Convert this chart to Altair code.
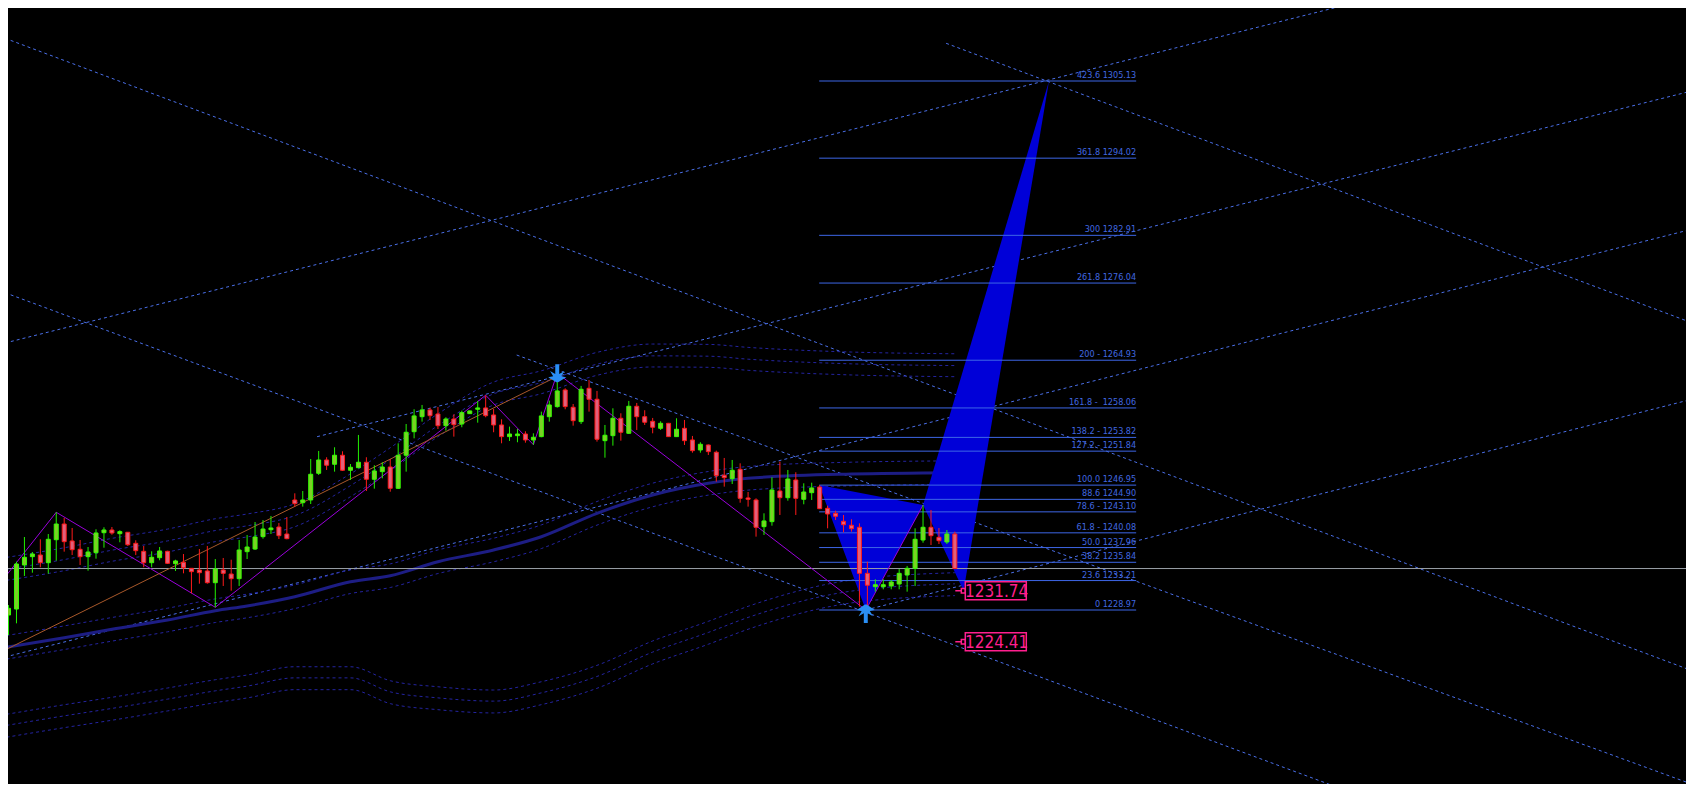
import altair as alt
import pandas as pd

# ---------------- data ----------------
OPEN = [1228.25, 1229.11, 1235.45, 1236.65, 1236.89, 1235.78, 1239.09, 1241.35, 1238.91, 1237.71,
        1236.65, 1237.22, 1240.10, 1240.49, 1239.96, 1240.16, 1238.57, 1237.42, 1235.78, 1236.50,
        1237.42, 1235.64, 1235.84, 1234.97, 1234.73, 1234.59, 1232.90, 1234.73, 1234.15, 1233.48,
        1237.37, 1237.75, 1239.53, 1240.53, 1240.92, 1239.91, 1244.81, 1244.42, 1244.81, 1248.65,
        1250.57, 1249.95, 1251.25, 1249.09, 1249.46, 1250.24, 1247.79, 1248.89, 1249.56, 1246.49,
        1251.25, 1254.64, 1256.80, 1257.77, 1257.19, 1255.51, 1256.47, 1255.75, 1257.24, 1257.87,
        1258.06, 1257.05, 1255.61, 1253.93, 1254.07, 1254.31, 1253.45, 1253.93, 1256.80, 1258.25,
        1260.65, 1258.16, 1256.09, 1260.89, 1259.31, 1253.35, 1254.07, 1256.57, 1254.41, 1258.30,
        1256.80, 1256.14, 1255.13, 1255.85, 1253.93, 1255.13, 1253.45, 1252.01, 1252.73, 1251.68,
        1248.37, 1247.88, 1249.23, 1245.10, 1244.81, 1240.97, 1241.69, 1246.10, 1245.14, 1247.69,
        1244.91, 1245.86, 1246.68, 1243.61, 1242.89, 1241.74, 1241.17, 1240.88, 1234.25, 1232.33,
        1232.33, 1232.43, 1232.71, 1234.01, 1234.97, 1239.05, 1240.88, 1239.44, 1238.76, 1239.91]
HIGH = [1229.69, 1235.93, 1239.48, 1237.32, 1239.15, 1239.91, 1243.04, 1242.22, 1240.78, 1239.05,
        1238.04, 1240.59, 1240.88, 1240.92, 1240.45, 1240.20, 1239.01, 1238.19, 1237.42, 1238.04,
        1237.50, 1236.21, 1237.03, 1235.00, 1237.75, 1238.19, 1236.31, 1236.46, 1236.21, 1239.05,
        1239.77, 1241.64, 1241.93, 1242.51, 1241.50, 1242.36, 1245.77, 1246.10, 1250.71, 1251.87,
        1250.96, 1252.40, 1251.82, 1249.99, 1254.17, 1250.96, 1249.81, 1250.24, 1250.71, 1252.97,
        1255.75, 1257.87, 1258.49, 1258.10, 1258.20, 1256.72, 1257.15, 1257.67, 1257.70, 1259.07,
        1259.89, 1257.91, 1256.43, 1255.37, 1255.03, 1254.70, 1254.41, 1257.53, 1259.11, 1262.60,
        1260.89, 1258.63, 1261.23, 1262.09, 1260.51, 1255.61, 1258.01, 1257.29, 1259.07, 1258.78,
        1257.73, 1256.62, 1256.14, 1255.90, 1256.57, 1256.33, 1254.03, 1253.12, 1252.80, 1251.91,
        1250.86, 1250.57, 1250.09, 1245.96, 1245.05, 1242.89, 1248.08, 1250.33, 1249.13, 1248.80,
        1247.21, 1247.30, 1246.95, 1243.99, 1243.27, 1242.65, 1242.03, 1241.45, 1235.93, 1233.39,
        1233.39, 1233.29, 1234.87, 1235.31, 1240.73, 1244.09, 1243.37, 1240.78, 1240.49, 1240.25]
LOW = [1225.37, 1227.05, 1233.87, 1234.34, 1235.12, 1234.20, 1236.07, 1237.37, 1236.89, 1235.45,
       1234.63, 1236.36, 1237.94, 1239.81, 1238.72, 1238.19, 1236.89, 1235.12, 1235.12, 1236.13,
       1235.60, 1234.59, 1234.25, 1231.37, 1232.76, 1232.76, 1229.36, 1232.43, 1231.75, 1232.43,
       1236.31, 1237.61, 1239.24, 1239.91, 1239.19, 1239.15, 1243.85, 1243.85, 1244.23, 1248.41,
       1249.13, 1248.89, 1249.00, 1247.69, 1249.37, 1246.10, 1246.44, 1247.93, 1246.00, 1246.40,
       1248.89, 1253.69, 1256.09, 1256.33, 1255.03, 1254.79, 1253.93, 1255.28, 1257.20, 1255.94,
       1256.72, 1254.56, 1252.97, 1253.31, 1253.12, 1253.06, 1252.77, 1253.84, 1256.09, 1258.10,
       1257.87, 1255.51, 1255.75, 1257.53, 1253.21, 1250.90, 1252.63, 1253.35, 1254.31, 1254.89,
       1255.61, 1254.41, 1254.89, 1253.88, 1253.88, 1252.73, 1251.62, 1251.62, 1251.29, 1247.45,
       1246.73, 1247.11, 1244.42, 1243.85, 1239.53, 1239.77, 1241.11, 1242.65, 1244.71, 1242.65,
       1244.19, 1244.81, 1243.50, 1240.73, 1241.93, 1240.16, 1240.25, 1229.45, 1228.97, 1231.61,
       1231.95, 1231.95, 1231.95, 1231.61, 1232.43, 1238.66, 1238.33, 1238.47, 1238.47, 1234.94]
CLOSE = [1229.21, 1235.59, 1236.56, 1237.03, 1235.78, 1239.15, 1241.35, 1238.81, 1237.65, 1236.65,
         1237.32, 1240.06, 1240.49, 1240.06, 1240.25, 1238.37, 1237.51, 1235.78, 1236.56, 1237.47,
         1235.69, 1236.03, 1235.06, 1234.49, 1234.34, 1232.90, 1234.87, 1234.25, 1233.48, 1237.61,
         1238.04, 1239.48, 1240.63, 1240.78, 1239.67, 1239.24, 1244.28, 1244.81, 1248.51, 1250.57,
         1249.81, 1251.25, 1249.09, 1249.52, 1250.24, 1247.79, 1248.99, 1249.56, 1246.49, 1251.25,
         1254.56, 1256.91, 1257.77, 1256.95, 1255.51, 1256.47, 1255.65, 1257.38, 1257.63, 1258.06,
         1256.95, 1255.61, 1253.93, 1254.31, 1254.31, 1253.45, 1253.84, 1256.91, 1258.49, 1260.51,
         1258.25, 1256.23, 1260.75, 1259.31, 1253.55, 1254.13, 1256.57, 1254.56, 1258.30, 1256.80,
         1256.00, 1255.28, 1255.85, 1253.93, 1254.99, 1253.35, 1251.91, 1252.83, 1251.77, 1248.31,
         1248.02, 1249.09, 1245.05, 1244.91, 1240.88, 1241.79, 1246.25, 1245.14, 1247.83, 1245.05,
         1245.96, 1246.54, 1243.56, 1242.79, 1242.46, 1241.25, 1240.68, 1234.25, 1232.53, 1232.61,
         1232.61, 1233.00, 1234.25, 1234.97, 1239.15, 1240.88, 1239.67, 1238.95, 1239.91, 1234.94]

# moving average and its envelope widths (upper / lower), sampled along the bars
MA_IDX = [-1, 7, 13, 20, 26, 30, 36, 43, 48, 54, 61, 67, 74, 81, 88, 93, 106, 119]
MA_VAL = [1223.46, 1224.98, 1226.19, 1227.53, 1228.87, 1229.55, 1230.88, 1233.04, 1233.91, 1235.92,
          1237.61, 1239.52, 1242.89, 1245.53, 1247.21, 1247.93, 1248.55, 1248.74]
BAND_UP = [9.65, 9.65, 9.79, 9.79, 9.94, 9.94, 10.08, 12.24, 15.12, 18.00,
           20.88, 20.59, 19.87, 18.43, 16.70, 15.55, 14.26, 13.82]
BAND_DN = [9.65, 9.65, 9.79, 9.79, 9.94, 9.94, 10.08, 12.24, 15.12, 18.00,
           20.16, 20.88, 21.89, 21.02, 19.87, 18.43, 15.26, 14.40]
BAND_STEPS = [0.0, 1.6, 3.3]
INNER_W = 1.7

# trend / channel lines: name, start bar, start price, end bar, end price
LINE_NAME = ["P", "Q", "R", "S", "T", "V", "W", "Y"]
LINE_I0 = [-0.44, -0.44, -0.44, 38.8, 117.9, 63.9, 107.8, -0.44]
LINE_P0 = [1311.28, 1267.41, 1274.65, 1253.92, 1310.56, 1265.68, 1228.97, 1222.20]
LINE_I1 = [211.3, 211.3, 211.3, 211.3, 211.3, 211.3, 211.3, 211.3]
LINE_P1 = [1220.40, 1328.52, 1184.66, 1303.59, 1270.48, 1204.06, 1259.20, 1283.68]

# zigzag and a long trend line
ZZ_IDX = [-0.44, 6, 26, 60, 66, 69, 107.8, 115]
ZZ_VAL = [1233.72, 1243.04, 1229.36, 1259.89, 1252.77, 1263.07, 1228.97, 1244.09]
BR_IDX = [-0.44, 69]
BR_VAL = [1223.21, 1262.60]

# harmonic pattern points X, A, B, C, D
PAT_IDX = [101.94, 107.8, 115.0, 120.1, 130.84]
PAT_VAL = [1246.95, 1228.97, 1244.09, 1231.74, 1305.13]

# fibonacci levels
FIB_RATIO = ["423.6", "361.8", "300", "261.8", "200", "161.8", "138.2", "127.2",
             "100.0", "88.6", "78.6", "61.8", "50.0", "38.2", "23.6", "0"]
FIB_SEP = [" ", " ", " ", " ", " - ", " -\u00a0 ", " - ", " - ",
           " ", " ", " - ", " - ", " ", " ", " ", " "]
FIB_PRICE = [1305.13, 1294.02, 1282.91, 1276.04, 1264.93, 1258.06, 1253.82, 1251.84,
             1246.95, 1244.90, 1243.10, 1240.08, 1237.96, 1235.84, 1233.21, 1228.97]
FIB_END = 141.8

TAG_PRICE = [1231.74, 1224.41]
TAG_IDX = 120.1
BID = 1234.94

# ---------------- layout ----------------
W, H = 1678, 776
xs = alt.Scale(domain=[0.5625, 210.3125], nice=False, zero=False)
ys = alt.Scale(domain=[1203.92, 1315.64], nice=False, zero=False)


def X(f="i"):
    return alt.X(f"{f}:Q", scale=xs, axis=None)


def Y(f="p"):
    return alt.Y(f"{f}:Q", scale=ys, axis=None)


LIGHT = "#4a6fe8"
DARKBAND = "#2424a0"
FIBC = "#4169e1"
TAGC = "#ff1f8e"
NARROW = "Liberation Sans Narrow, Arial Narrow, DejaVu Sans Condensed, sans-serif"

# long dashed lines
rows = []
for n, a, b, c, d in zip(LINE_NAME, LINE_I0, LINE_P0, LINE_I1, LINE_P1):
    rows += [{"name": n, "i": a, "p": b}, {"name": n, "i": c, "p": d}]
lines_df = pd.DataFrame(rows)
long_lines = alt.Chart(lines_df).mark_line(
    clip=True, color=LIGHT, strokeWidth=1, strokeDash=[3, 3]
).encode(x=X(), y=Y(), detail="name:N")

# envelope bands
brows = []
for i, m, wu, wd in zip(MA_IDX, MA_VAL, BAND_UP, BAND_DN):
    brows.append({"band": "in_up", "i": i, "p": m + INNER_W})
    brows.append({"band": "in_dn", "i": i, "p": m - INNER_W})
    for k, s in enumerate(BAND_STEPS):
        brows.append({"band": f"up{k}", "i": i, "p": m + wu + s})
        brows.append({"band": f"dn{k}", "i": i, "p": m - wd - s})
band_df = pd.DataFrame(brows)
bands = alt.Chart(band_df).mark_line(
    clip=True, color=DARKBAND, strokeWidth=1, strokeDash=[3, 3], interpolate="monotone"
).encode(x=X(), y=Y(), detail="band:N")

ma_df = pd.DataFrame({"i": MA_IDX, "p": MA_VAL})
ma = alt.Chart(ma_df).mark_line(
    clip=True, color="#1d1d84", strokeWidth=3, interpolate="monotone"
).encode(x=X(), y=Y())

# harmonic triangles (X-A-B and B-C-D)
def tri(name, p0, p1, p2):
    (i0, v0), (i1, v1), (i2, v2) = p0, p1, p2
    mid = v0 + (v2 - v0) * (i1 - i0) / (i2 - i0)
    return [{"t": name, "i": i0, "lo": v0, "hi": v0},
            {"t": name, "i": i1, "lo": min(v1, mid), "hi": max(v1, mid)},
            {"t": name, "i": i2, "lo": v2, "hi": v2}]

pts = list(zip(PAT_IDX, PAT_VAL))
tri_df = pd.DataFrame(tri("xab", pts[0], pts[1], pts[2]) + tri("bcd", pts[2], pts[3], pts[4]))
triangles = alt.Chart(tri_df).mark_area(clip=True, color="#0000d8", opacity=1).encode(
    x=X(), y=Y("lo"), y2="hi:Q", detail="t:N"
)

# current price line
bid = alt.Chart(pd.DataFrame({"p": [BID]})).mark_rule(color="#9aa1a8", strokeWidth=1).encode(
    y=Y(), x=alt.value(0), x2=alt.value(W)
)

# fibonacci levels
fib_df = pd.DataFrame({
    "p": FIB_PRICE,
    "i0": [PAT_IDX[0]] * len(FIB_PRICE),
    "i1": [FIB_END] * len(FIB_PRICE),
    "label": [f"{r}{s}{v:.2f}" for r, s, v in zip(FIB_RATIO, FIB_SEP, FIB_PRICE)],
})
fib_lines = alt.Chart(fib_df).mark_rule(color="#3d66e6", strokeWidth=1).encode(
    x=X("i0"), x2="i1:Q", y=Y()
)
fib_text = alt.Chart(fib_df).mark_text(
    align="right", baseline="bottom", dy=-1, fontSize=9, font=NARROW, color=FIBC
).encode(x=X("i1"), y=Y(), text="label:N")

# zigzag & trend
zz = alt.Chart(pd.DataFrame({"i": ZZ_IDX, "p": ZZ_VAL})).mark_line(
    clip=True, color="#9a00dc", strokeWidth=1
).encode(x=X(), y=Y())
brown = alt.Chart(pd.DataFrame({"i": BR_IDX, "p": BR_VAL})).mark_line(
    clip=True, color="#a8582a", strokeWidth=1
).encode(x=X(), y=Y())

# candles
cdf = pd.DataFrame({"i": list(range(len(OPEN))), "open": OPEN, "high": HIGH, "low": LOW, "close": CLOSE})
cdf["dir"] = ["up" if c >= o else "down" for o, c in zip(OPEN, CLOSE)]
wicks = alt.Chart(cdf).mark_rule(strokeWidth=1).encode(
    x=X(), y=Y("low"), y2="high:Q",
    color=alt.Color("dir:N", scale=alt.Scale(domain=["up", "down"], range=["#22f000", "#ff1a1a"]), legend=None),
)
bodies = alt.Chart(cdf).mark_bar(size=4, strokeWidth=1).encode(
    x=X(), y=Y("open"), y2="close:Q",
    fill=alt.Fill("dir:N", scale=alt.Scale(domain=["up", "down"], range=["#7ccf26", "#e2607c"]), legend=None),
    stroke=alt.Stroke("dir:N", scale=alt.Scale(domain=["up", "down"], range=["#33ff00", "#ff1a1a"]), legend=None),
)

# fractal arrows at the swing points
DOWN_ARROW = ("M-0.22,-1 L0.22,-1 L0.22,0.1 L0.8,-0.25 L0.45,0.35 L1,0.45 L0.1,1 "
              "L-0.1,1 L-1,0.45 L-0.45,0.35 L-0.8,-0.25 L-0.22,0.1 Z")
UP_ARROW = ("M-0.22,1.45 L0.22,1.45 L0.22,0.35 L0.8,0.7 L0.45,0.1 L1,0 L0.1,-0.6 "
            "L-0.1,-0.6 L-1,0 L-0.45,0.1 L-0.8,0.7 L-0.22,0.35 Z")
arrow_dn = alt.Chart(pd.DataFrame({"i": [ZZ_IDX[5]], "p": [ZZ_VAL[5]]})).mark_point(
    shape=DOWN_ARROW, size=324, filled=True, color="#2a8ff5", opacity=1
).encode(x=X(), y=Y())
arrow_up = alt.Chart(pd.DataFrame({"i": [PAT_IDX[1]], "p": [PAT_VAL[1]]})).mark_point(
    shape=UP_ARROW, size=324, filled=True, color="#2a8ff5", opacity=1
).encode(x=X(), y=Y())

# price tags
TAG_SHAPE = "M0.17,-0.9 H6.27 V0.9 H0.17 Z M-0.83,0 H-0.23 M-0.23,-0.22 H0.15 V0.22 H-0.23 Z"
tag_df = pd.DataFrame({"i": [TAG_IDX] * len(TAG_PRICE), "p": TAG_PRICE,
                       "label": [f"{v:.2f}" for v in TAG_PRICE]})
tag_box = alt.Chart(tag_df).mark_point(
    shape=TAG_SHAPE, size=400, filled=False, stroke=TAGC, strokeWidth=1.5, fill="#000000",
    fillOpacity=1, opacity=1
).encode(x=X(), y=Y())
tag_text = alt.Chart(tag_df).mark_text(
    align="center", baseline="middle", dx=33, dy=1, fontSize=17, font=NARROW, color=TAGC
).encode(x=X(), y=Y(), text="label:N")

chart = alt.layer(
    long_lines, bands, ma, triangles, bid, fib_lines, fib_text, zz, brown,
    wicks, bodies, arrow_dn, arrow_up, tag_box, tag_text
).properties(
    width=W, height=H, padding=0, autosize=alt.AutoSizeParams(type="none"),
    background="#000000"
).configure_view(stroke=None)

chart.save("out.html", embed_options={"renderer": "svg", "actions": False})
